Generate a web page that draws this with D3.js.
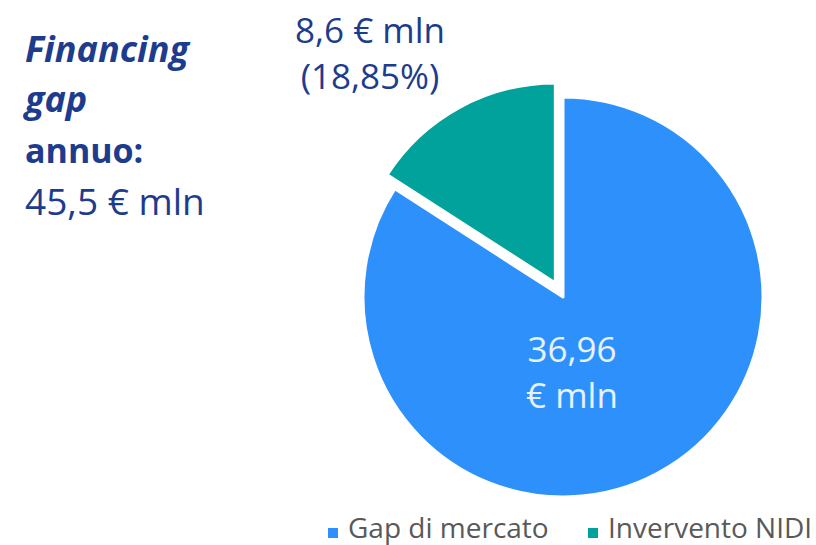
<!DOCTYPE html>
<html>
<head>
<meta charset="utf-8">
<script src="https://cdn.jsdelivr.net/npm/d3@7"></script>
<style>
	body { margin: 0; background: #fff; }
	svg { display: block; font-family: "Open Sans", sans-serif; }
</style>
</head>
<body>
<div id="chart"></div>
<script>
// slice data (angles as drawn in the picture)
let categories = ["Gap di mercato", "Invervento NIDI"];
let sliceValues = [45.5, 8.6];
let sliceLabels = [["36,96", "€ mln"], ["8,6 € mln", "(18,85%)"]];
let colors = ["#2e91fb", "#00a29b"];
let titleLines = ["Financing", "gap", "annuo:", "45,5 € mln"];

let width = 816, height = 545;
let cx = 563, cy = 297, radius = 200;
let explode = 16;

let svg = d3.select("#chart").append("svg")
	.attr("width", width)
	.attr("height", height);

// title block on the left
let titleStyles = [
	{ weight: 700, style: "italic", size: 36 },
	{ weight: 700, style: "italic", size: 36 },
	{ weight: 700, style: "normal", size: 34 },
	{ weight: 400, style: "normal", size: 37 }
];
let titleBaselines = [62, 112, 163, 215];
svg.append("g").selectAll("text")
	.data(titleLines)
	.join("text")
	.attr("x", 25)
	.attr("y", (d, i) => titleBaselines[i])
	.attr("fill", "#1d3c8e")
	.attr("font-size", (d, i) => titleStyles[i].size)
	.attr("font-weight", (d, i) => titleStyles[i].weight)
	.attr("font-style", (d, i) => titleStyles[i].style)
	.text(d => d);

// pie
let pie = d3.pie().sort(null).value(d => d);
let arcs = pie(sliceValues);
let arc = d3.arc().innerRadius(0).outerRadius(radius);

let g = svg.append("g").attr("transform", `translate(${cx},${cy})`);

g.selectAll("path")
	.data(arcs)
	.join("path")
	.attr("transform", (d, i) => {
		if (i === 0) return null;
		let a = (d.startAngle + d.endAngle) / 2;
		return `translate(${Math.sin(a) * explode},${-Math.cos(a) * explode})`;
	})
	.attr("d", arc)
	.attr("fill", (d, i) => colors[i])
	.attr("stroke", "#fff")
	.attr("stroke-width", 3)
	.attr("stroke-linejoin", "round");

// data labels (placed like the original, relative to pie center)
let labelPos = [{ x: 9, y: 65, color: "#e8f2ff" }, { x: -193, y: -254, color: "#1d3c8e" }];
let labelG = g.selectAll("g.lbl")
	.data(arcs)
	.join("g")
	.attr("class", "lbl")
	.attr("transform", (d, i) => `translate(${labelPos[i].x},${labelPos[i].y})`);

labelG.each(function(d, i) {
	d3.select(this).selectAll("text")
		.data(sliceLabels[i])
		.join("text")
		.attr("text-anchor", "middle")
		.attr("y", (t, j) => j * 46)
		.attr("font-size", 35)
		.attr("fill", labelPos[i].color)
		.text(t => t);
});

// legend
let legendX = [328, 588];
let legend = svg.append("g").selectAll("g")
	.data(categories)
	.join("g")
	.attr("transform", (d, i) => `translate(${legendX[i]},528)`);

legend.append("rect")
	.attr("width", 10)
	.attr("height", 10)
	.attr("fill", (d, i) => colors[i]);

legend.append("text")
	.attr("x", 20)
	.attr("y", 10)
	.attr("font-size", 28)
	.attr("fill", "#595959")
	.text(d => d);
</script>
</body>
</html>
